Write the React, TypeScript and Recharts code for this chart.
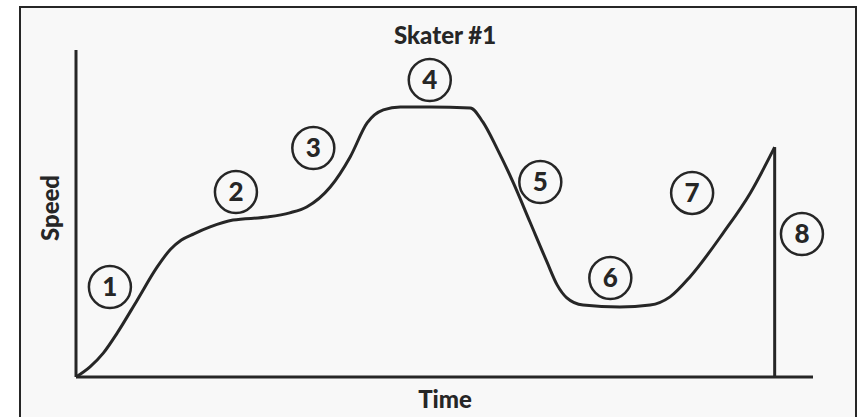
import { LineChart, Line, XAxis, YAxis, ReferenceDot, ReferenceLine } from "recharts";

// curve: time 0..100, speed 0..100
const time = [0, 1.9, 3.7, 5.6, 8.3, 11.0, 12.8, 14.3, 16.0, 18.2, 21.3, 25.9, 29.0, 31.3, 34.5, 37.2, 39.5, 41.7, 44.0, 48.0, 53.5, 55.2, 57.1, 59.3, 61.6, 63.9, 65.3, 66.6, 68.8, 73.8, 77.9, 80.6, 83.3, 87.8, 91.5, 94.8];
const speed = [0, 3.1, 7.3, 13.5, 23.5, 33.6, 39.0, 41.9, 43.8, 45.9, 48.0, 48.9, 50.2, 52.0, 58.1, 67.3, 77.7, 81.7, 82.6, 82.6, 82.3, 78.0, 70.0, 59.6, 47.4, 35.2, 28.1, 24.2, 22.0, 21.4, 22.0, 24.5, 30.6, 44.0, 56.3, 70.3];

// the sudden stop at the end
const dropTime = [94.8, 94.8];
const dropSpeed = [70.3, 0];

// circled stage markers
const stages = ["1", "2", "3", "4", "5", "6", "7", "8"];
const stageTime = [4.6, 21.7, 32.2, 48.0, 63.0, 72.5, 83.6, 98.5];
const stageSpeed = [27.5, 56.6, 70.0, 90.8, 59.6, 30.3, 56.3, 43.7];

const curve = time.map((t, i) => ({ t, v: speed[i] }));
const drop = dropTime.map((t, i) => ({ t, v: dropSpeed[i] }));

const ink = "#262626";
const font = "Lato, 'DejaVu Sans', sans-serif";

export default function App() {
  return (
    <div style={{ position: "absolute", left: 0, top: 0, width: 861, height: 417, background: "#fff", fontFamily: font }}>
      <div
        style={{
          position: "absolute", left: 19, top: 6, width: 838, height: 420,
          border: `2px solid ${ink}`, background: "#f8f8f8", boxSizing: "border-box",
        }}
      />
      <div style={{ position: "absolute", left: 0, top: 0 }}>
        <LineChart width={861} height={417} data={curve} margin={{ top: 50, right: 48, left: 76, bottom: 40 }}>
          <XAxis dataKey="t" type="number" domain={[0, 100]} hide />
          <YAxis type="number" domain={[0, 100]} hide />
          <ReferenceLine y={0} stroke={ink} strokeWidth={3} />
          <ReferenceLine x={0} stroke={ink} strokeWidth={3} />
          <Line type="monotone" dataKey="v" stroke={ink} strokeWidth={3} dot={false} isAnimationActive={false} />
          <Line data={drop} type="linear" dataKey="v" stroke={ink} strokeWidth={3} dot={false} isAnimationActive={false} />
          {stages.map((s, i) => (
            <ReferenceDot
              key={s}
              x={stageTime[i]}
              y={stageSpeed[i]}
              r={21}
              fill="none"
              stroke={ink}
              strokeWidth={2.5}
              label={{ value: s, position: "center", fontSize: 26, fontWeight: 900, fill: ink, fontFamily: font }}
            />
          ))}
        </LineChart>
      </div>
      <div style={{ position: "absolute", left: 345, width: 200, top: 20, textAlign: "center", fontSize: 24, fontWeight: 900, color: ink }}>
        Skater #1
      </div>
      <div style={{ position: "absolute", left: 345, width: 200, top: 384, textAlign: "center", fontSize: 24, fontWeight: 900, color: ink }}>
        Time
      </div>
      <div
        style={{
          position: "absolute", left: 49, top: 208, transform: "translate(-50%, -50%) rotate(-90deg)",
          fontSize: 24, fontWeight: 900, color: ink, whiteSpace: "nowrap",
        }}
      >
        Speed
      </div>
    </div>
  );
}
